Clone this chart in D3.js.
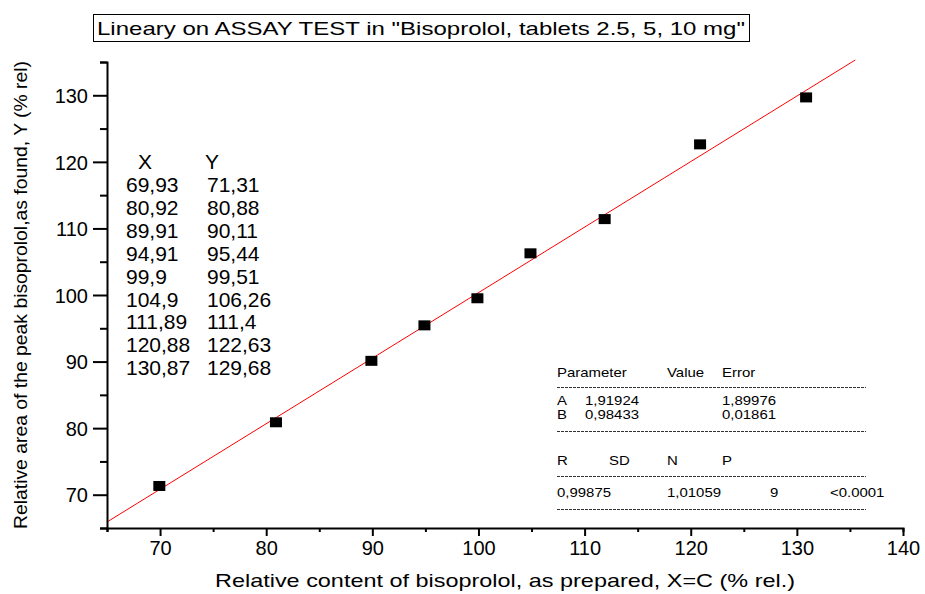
<!DOCTYPE html>
<html>
<head>
<meta charset="utf-8">
<script src="https://cdn.jsdelivr.net/npm/d3@7"></script>
<style>
  body { margin: 0; background: #fff; }
  svg { font-family: "Liberation Sans", Arial, sans-serif; }
</style>
</head>
<body>
<div id="chart"></div>
<script>
// measured points
const xValues = [69.93, 80.92, 89.91, 94.91, 99.9, 104.9, 111.89, 120.88, 130.87];
const yValues = [71.31, 80.88, 90.11, 95.44, 99.51, 106.26, 111.4, 122.63, 129.68];
const xLabels = ['69,93', '80,92', '89,91', '94,91', '99,9', '104,9', '111,89', '120,88', '130,87'];
const yLabels = ['71,31', '80,88', '90,11', '95,44', '99,51', '106,26', '111,4', '122,63', '129,68'];
// fit parameters
const fitA = 1.91924;
const fitB = 0.98433;
const xTicks = [70, 80, 90, 100, 110, 120, 130, 140];
const yTicks = [70, 80, 90, 100, 110, 120, 130];

const width = 925, height = 594;
const svg = d3.select('#chart')
  .append('svg')
  .attr('width', width)
  .attr('height', height);

const x = d3.scaleLinear().domain([65, 140]).range([107, 903]);
const y = d3.scaleLinear().domain([65, 135]).range([528, 62]);

// title box
svg.append('rect')
  .attr('x', 93.5).attr('y', 14.5)
  .attr('width', 656).attr('height', 27)
  .attr('fill', 'none').attr('stroke', '#000').attr('stroke-width', 1);
svg.append('text')
  .attr('x', 97).attr('y', 35)
  .attr('font-size', 19)
  .attr('textLength', 648).attr('lengthAdjust', 'spacingAndGlyphs')
  .text('Lineary on ASSAY TEST in "Bisoprolol, tablets 2.5, 5, 10 mg"');

// fit line
svg.append('clipPath').attr('id', 'plotclip')
  .append('rect').attr('x', 107).attr('y', 55).attr('width', 800).attr('height', 473);
svg.append('line')
  .attr('clip-path', 'url(#plotclip)')
  .attr('x1', x(65)).attr('y1', y(fitA + fitB * 65))
  .attr('x2', x(135.5)).attr('y2', y(fitA + fitB * 135.5))
  .attr('stroke', '#ff0000').attr('stroke-width', 1);

// axes
const xAxis = svg.append('g').attr('transform', 'translate(0,528)');
xAxis.call(d3.axisBottom(x).tickValues(d3.range(65, 141, 5)).tickSize(4).tickFormat(''));
xAxis.call(g => g.selectAll('.tick').filter(d => d % 10 === 0).select('line').attr('y2', 8));
const xLab = svg.append('g').attr('transform', 'translate(0,528)');
xLab.call(d3.axisBottom(x).tickValues(xTicks).tickSize(0).tickPadding(13));
xLab.select('.domain').remove();
xLab.selectAll('text').attr('font-size', 20).attr('fill', '#000')
  .attr('font-family', '"Liberation Sans", Arial, sans-serif');

const yAxis = svg.append('g').attr('transform', 'translate(107,0)');
yAxis.call(d3.axisLeft(y).tickValues(d3.range(65, 136, 5)).tickSize(7).tickFormat(''));
yAxis.call(g => g.selectAll('.tick').filter(d => d % 10 === 0).select('line').attr('x2', -14));
const yLab = svg.append('g').attr('transform', 'translate(107,0)');
yLab.call(d3.axisLeft(y).tickValues(yTicks).tickSize(0).tickPadding(19));
yLab.select('.domain').remove();
yLab.selectAll('text').attr('font-size', 20).attr('fill', '#000').attr('dy', '0.36em')
  .attr('font-family', '"Liberation Sans", Arial, sans-serif');

svg.selectAll('.domain').attr('stroke-width', 2).attr('stroke', '#000');
svg.selectAll('.tick line').attr('stroke-width', 2).attr('stroke', '#000');

// points
svg.append('g').selectAll('rect')
  .data(xValues)
  .join('rect')
  .attr('x', (d, i) => x(d) - 6)
  .attr('y', (d, i) => y(yValues[i]) - 5)
  .attr('width', 12).attr('height', 10)
  .attr('fill', '#000');

// axis titles
svg.append('text')
  .attr('x', 505).attr('y', 587)
  .attr('text-anchor', 'middle')
  .attr('font-size', 19)
  .attr('textLength', 580).attr('lengthAdjust', 'spacingAndGlyphs')
  .text('Relative content of bisoprolol, as prepared, X=C (% rel.)');
svg.append('text')
  .attr('transform', 'translate(27,295) rotate(-90)')
  .attr('text-anchor', 'middle')
  .attr('font-size', 19)
  .attr('textLength', 468).attr('lengthAdjust', 'spacingAndGlyphs')
  .text('Relative area of the peak bisoprolol,as found, Y (% rel)');

// data table
const table = svg.append('g').attr('font-size', 21);
table.append('text').attr('x', 138).attr('y', 169).text('X');
table.append('text').attr('x', 205).attr('y', 169).text('Y');
table.selectAll('.tx')
  .data(xLabels)
  .join('text')
  .attr('class', 'tx')
  .attr('x', 126).attr('y', (d, i) => 192 + i * 22.9)
  .text(d => d);
table.selectAll('.ty')
  .data(yLabels)
  .join('text')
  .attr('class', 'ty')
  .attr('x', 207).attr('y', (d, i) => 192 + i * 22.9)
  .text(d => d);

// fit statistics (text is a bit wider than normal in the source)
const stats = svg.append('g').attr('font-size', 13);
const dash = yy => stats.append('line')
  .attr('x1', 557).attr('x2', 866).attr('y1', yy).attr('y2', yy)
  .attr('stroke', '#333').attr('stroke-width', 1).attr('stroke-dasharray', '3,1');
const txt = (xx, yy, s) => stats.append('text')
  .attr('transform', `translate(${xx},${yy}) scale(1.15,1)`).text(s);
txt(557, 377, 'Parameter'); txt(667, 377, 'Value'); txt(722, 377, 'Error');
dash(387.5);
txt(557, 405, 'A'); txt(585, 405, '1,91924'); txt(722, 405, '1,89976');
txt(557, 419, 'B'); txt(585, 419, '0,98433'); txt(722, 419, '0,01861');
dash(431.5);
txt(557, 465, 'R'); txt(609, 465, 'SD'); txt(667, 465, 'N'); txt(722, 465, 'P');
dash(476.5);
txt(557, 497, '0,99875'); txt(667, 497, '1,01059'); txt(770, 497, '9'); txt(830, 497, '<0.0001');
dash(509.5);
</script>
</body>
</html>
